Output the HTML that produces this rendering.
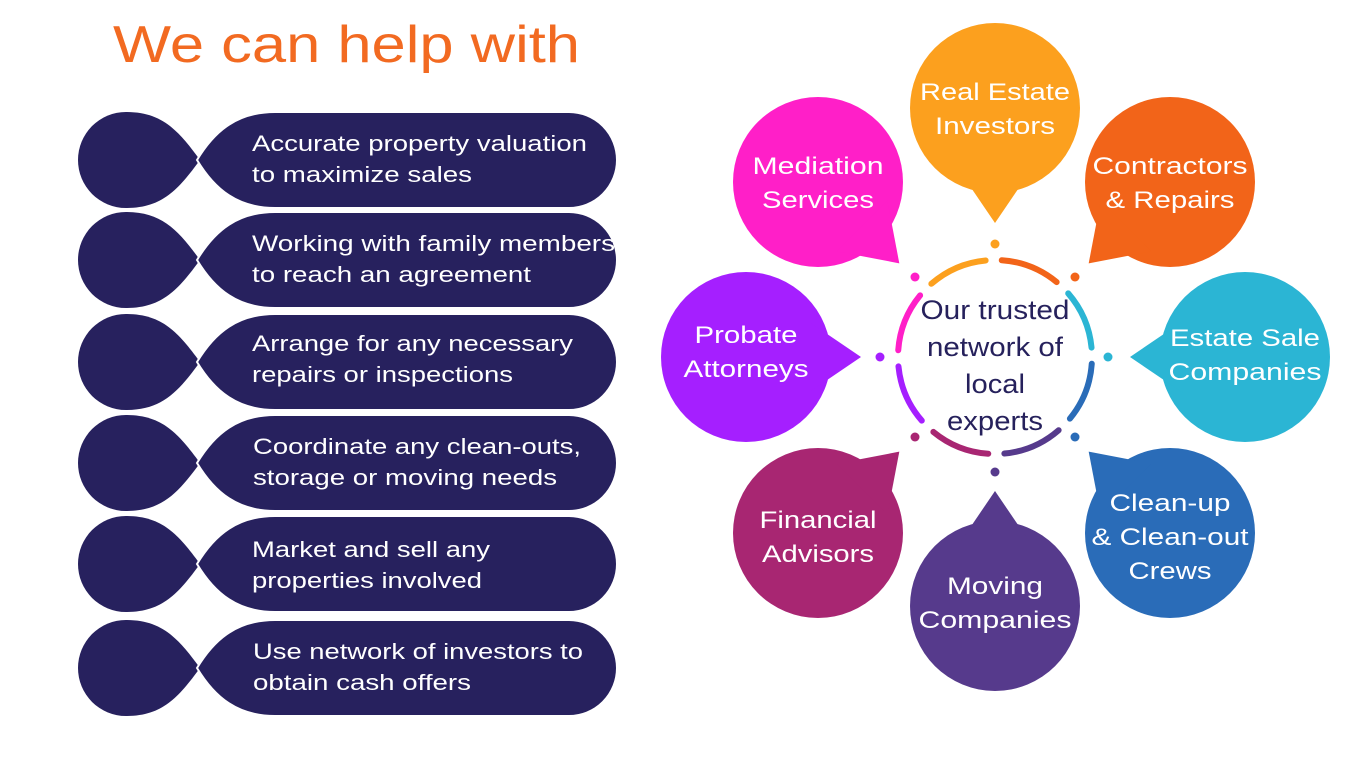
<!DOCTYPE html>
<html><head><meta charset="utf-8"><style>
html,body{margin:0;padding:0;background:#fff;}
svg{display:block;font-family:"Liberation Sans",Arial,sans-serif;}
</style></head><body>
<svg width="1366" height="768" viewBox="0 0 1366 768" xmlns="http://www.w3.org/2000/svg">
<defs>
  <g id="bub"><circle cx="0" cy="0" r="85"/><polygon points="-36,-62 36,-62 0,-115"/></g>
  <g id="row">
    <path d="M200 0 C178 -30 162 -48 126 -48 A48 48 0 0 0 126 48 C162 48 178 30 200 0 Z" fill="#27215E"/>
    <path d="M197 0 C215 -30 238 -48 275 -48 L569 -48 A48 48 0 0 1 569 48 L275 48 C238 48 215 30 197 0 Z" fill="#27215E" stroke="#fff" stroke-width="2"/>
  </g>
</defs>
<text x="113" y="62" font-size="52" fill="#F26A21" textLength="467" lengthAdjust="spacingAndGlyphs">We can help with</text>

<g font-size="22" fill="#fff" lengthAdjust="spacingAndGlyphs">
<use href="#row" transform="translate(0,160)"/>
<text x="252" y="151" textLength="335" lengthAdjust="spacingAndGlyphs">Accurate property valuation</text><text x="252" y="182" textLength="220" lengthAdjust="spacingAndGlyphs">to maximize sales</text>
<use href="#row" transform="translate(0,260)"/>
<text x="252" y="251" textLength="363" lengthAdjust="spacingAndGlyphs">Working with family members</text><text x="252" y="282" textLength="279" lengthAdjust="spacingAndGlyphs">to reach an agreement</text>
<use href="#row" transform="translate(0,362)"/>
<text x="252" y="351" textLength="321" lengthAdjust="spacingAndGlyphs">Arrange for any necessary</text><text x="252" y="382" textLength="261" lengthAdjust="spacingAndGlyphs">repairs or inspections</text>
<use href="#row" transform="translate(0,463)"/>
<text x="253" y="454" textLength="328" lengthAdjust="spacingAndGlyphs">Coordinate any clean-outs,</text><text x="253" y="485" textLength="304" lengthAdjust="spacingAndGlyphs">storage or moving needs</text>
<use href="#row" transform="translate(0,564)"/>
<text x="252" y="557" textLength="238" lengthAdjust="spacingAndGlyphs">Market and sell any</text><text x="252" y="588" textLength="230" lengthAdjust="spacingAndGlyphs">properties involved</text>
<use href="#row" transform="translate(0,668)"/>
<text x="253" y="659" textLength="330" lengthAdjust="spacingAndGlyphs">Use network of investors to</text><text x="253" y="690" textLength="218" lengthAdjust="spacingAndGlyphs">obtain cash offers</text>
</g>

<!-- bubbles -->
<use href="#bub" fill="#FCA01E" transform="translate(995,108) rotate(180)"/>
<use href="#bub" fill="#F26419" transform="translate(1170,182) rotate(225)"/>
<use href="#bub" fill="#2BB5D4" transform="translate(1245,357) rotate(270)"/>
<use href="#bub" fill="#2A6CB8" transform="translate(1170,533) rotate(315)"/>
<use href="#bub" fill="#563A8C" transform="translate(995,606) rotate(0)"/>
<use href="#bub" fill="#A82672" transform="translate(818,533) rotate(45)"/>
<use href="#bub" fill="#A51FFF" transform="translate(746,357) rotate(90)"/>
<use href="#bub" fill="#FF1FC8" transform="translate(818,182) rotate(135)"/>

<g font-size="24" fill="#fff" text-anchor="middle">
<text x="995" y="100" textLength="150" lengthAdjust="spacingAndGlyphs">Real Estate</text><text x="995" y="134" textLength="120" lengthAdjust="spacingAndGlyphs">Investors</text>
<text x="1170" y="174" textLength="155" lengthAdjust="spacingAndGlyphs">Contractors</text><text x="1170" y="208" textLength="129" lengthAdjust="spacingAndGlyphs">&amp; Repairs</text>
<text x="1245" y="346" textLength="150" lengthAdjust="spacingAndGlyphs">Estate Sale</text><text x="1245" y="380" textLength="153" lengthAdjust="spacingAndGlyphs">Companies</text>
<text x="1170" y="511" textLength="121" lengthAdjust="spacingAndGlyphs">Clean-up</text><text x="1170" y="545" textLength="157" lengthAdjust="spacingAndGlyphs">&amp; Clean-out</text><text x="1170" y="579" textLength="83" lengthAdjust="spacingAndGlyphs">Crews</text>
<text x="995" y="594" textLength="96" lengthAdjust="spacingAndGlyphs">Moving</text><text x="995" y="628" textLength="153" lengthAdjust="spacingAndGlyphs">Companies</text>
<text x="818" y="528" textLength="117" lengthAdjust="spacingAndGlyphs">Financial</text><text x="818" y="562" textLength="112" lengthAdjust="spacingAndGlyphs">Advisors</text>
<text x="746" y="343" textLength="103" lengthAdjust="spacingAndGlyphs">Probate</text><text x="746" y="377" textLength="125" lengthAdjust="spacingAndGlyphs">Attorneys</text>
<text x="818" y="174" textLength="131" lengthAdjust="spacingAndGlyphs">Mediation</text><text x="818" y="208" textLength="112" lengthAdjust="spacingAndGlyphs">Services</text>
</g>

<!-- ring segments -->
<g fill="none" stroke-width="6" stroke-linecap="round" stroke-dasharray="60 549.5">
<circle cx="995" cy="357" r="97" stroke="#F26419" transform="rotate(-86 995 357)"/>
<circle cx="995" cy="357" r="97" stroke="#2BB5D4" transform="rotate(-41 995 357)"/>
<circle cx="995" cy="357" r="97" stroke="#2A6CB8" transform="rotate(4 995 357)"/>
<circle cx="995" cy="357" r="97" stroke="#563A8C" transform="rotate(49 995 357)"/>
<circle cx="995" cy="357" r="97" stroke="#A82672" transform="rotate(94 995 357)"/>
<circle cx="995" cy="357" r="97" stroke="#A51FFF" transform="rotate(139 995 357)"/>
<circle cx="995" cy="357" r="97" stroke="#FF1FC8" transform="rotate(184 995 357)"/>
<circle cx="995" cy="357" r="97" stroke="#FCA01E" transform="rotate(229 995 357)"/>
</g>
<g>
<circle cx="995" cy="244" r="4.5" fill="#FCA01E"/>
<circle cx="1075" cy="277" r="4.5" fill="#F26419"/>
<circle cx="1108" cy="357" r="4.5" fill="#2BB5D4"/>
<circle cx="1075" cy="437" r="4.5" fill="#2A6CB8"/>
<circle cx="995" cy="472" r="4.5" fill="#563A8C"/>
<circle cx="915" cy="437" r="4.5" fill="#A82672"/>
<circle cx="880" cy="357" r="4.5" fill="#A51FFF"/>
<circle cx="915" cy="277" r="4.5" fill="#FF1FC8"/>
</g>
<g font-size="27" fill="#26215C" text-anchor="middle">
<text x="995" y="319" textLength="149" lengthAdjust="spacingAndGlyphs">Our trusted</text>
<text x="995" y="356" textLength="136" lengthAdjust="spacingAndGlyphs">network of</text>
<text x="995" y="393" textLength="60" lengthAdjust="spacingAndGlyphs">local</text>
<text x="995" y="430" textLength="96" lengthAdjust="spacingAndGlyphs">experts</text>
</g>
</svg>
</body></html>
